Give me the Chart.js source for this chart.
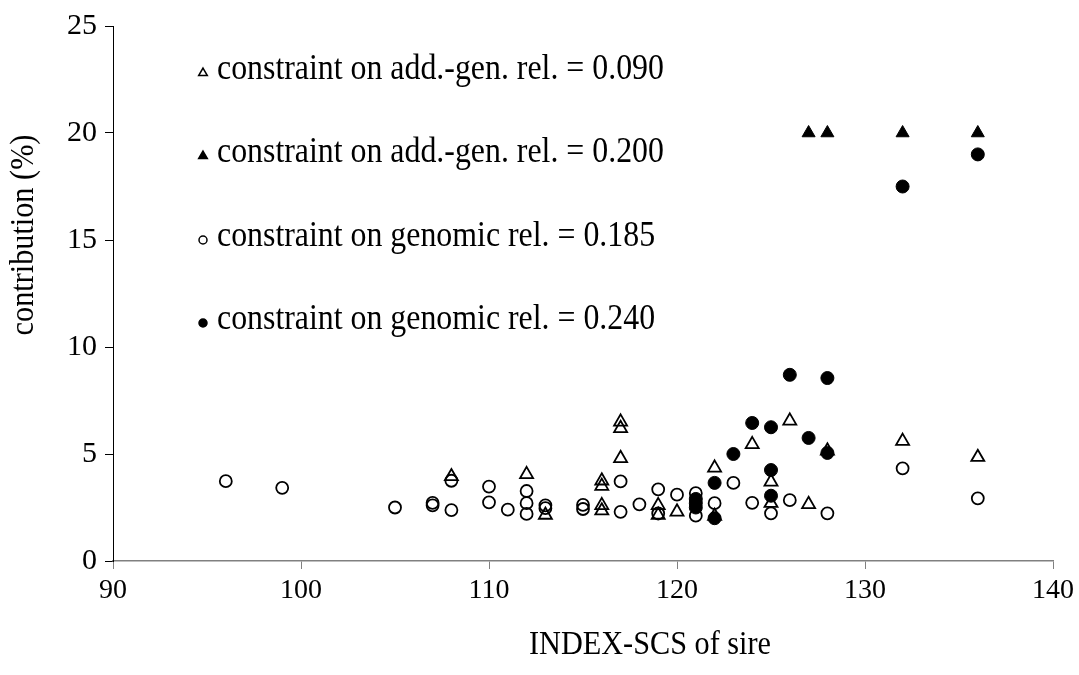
<!DOCTYPE html>
<html>
<head>
<meta charset="utf-8">
<script src="https://cdn.jsdelivr.net/npm/chart.js@4.4.1/dist/chart.umd.min.js"></script>
<style>
  html, body { margin: 0; padding: 0; background: #fff; }
  #wrap { width: 1079px; height: 675px; }
</style>
</head>
<body>
<div id="wrap"><canvas id="contribChart" width="1079" height="675"></canvas></div>
<script>
// INDEX-SCS of sire (x) and contribution in % (y)
const openTriX = [108, 112, 113, 116, 116, 116, 116, 117, 117, 117, 119, 119, 120, 122, 122, 124, 125, 125, 126, 127, 128, 132, 136];
const openTriY = [3.95, 4.05, 2.15, 3.75, 3.5, 2.6, 2.35, 6.5, 6.2, 4.8, 2.6, 2.15, 2.3, 4.35, 2.1, 5.45, 3.7, 2.7, 6.55, 2.65, 5.15, 5.6, 4.85];

const filledTriX = [127, 128, 132, 136];
const filledTriY = [20, 20, 20, 20];

const openCircX = [96, 99, 105, 107, 107, 108, 108, 110, 110, 111, 112, 112, 112, 113, 113, 115, 115, 117, 117, 118, 119, 119, 120, 121, 121, 122, 123, 124, 125, 126, 128, 132, 136];
const openCircY = [3.73, 3.42, 2.5, 2.72, 2.6, 3.75, 2.38, 3.48, 2.74, 2.4, 3.27, 2.7, 2.2, 2.6, 2.47, 2.62, 2.43, 3.72, 2.3, 2.65, 3.35, 2.22, 3.1, 3.17, 2.12, 2.7, 3.65, 2.72, 2.23, 2.84, 2.23, 4.33, 2.93];

const filledCircX = [121, 121, 121, 122, 122, 123, 124, 125, 125, 125, 126, 127, 128, 128, 132, 136];
const filledCircY = [2.9, 2.7, 2.5, 3.65, 2.0, 5.0, 6.45, 6.25, 4.25, 3.05, 8.7, 5.75, 8.55, 5.05, 17.5, 19.0];

const seriesLabels = [
    'constraint on add.-gen. rel. = 0.090',
    'constraint on add.-gen. rel. = 0.200',
    'constraint on genomic rel. = 0.185',
    'constraint on genomic rel. = 0.240'
];

const xTicks = [90, 100, 110, 120, 130, 140];
const yTicks = [0, 5, 10, 15, 20, 25];

const FONT = '"Liberation Serif", "Times New Roman", serif';

function toPoints(xs, ys) {
    return xs.map((x, i) => ({ x: x, y: ys[i] }));
}

// narrow, tall serif text like in the original figure
function condensedText(ctx, text, x, y, size, squeeze, align) {
    ctx.save();
    ctx.translate(x, y);
    ctx.scale(squeeze, 1);
    ctx.font = size + 'px ' + FONT;
    ctx.textAlign = align;
    ctx.fillText(text, 0, 0);
    ctx.restore();
}

// legend and axis titles drawn at fixed spots like the original figure
const figureText = {
    id: 'figureText',
    afterDraw(chart) {
        const ctx = chart.ctx;
        ctx.save();
        ctx.textBaseline = 'middle';

        // legend inside plot area
        const rows = [70, 153, 237, 320];
        chart.data.datasets.forEach((ds) => {
            const y = rows[ds.legendRow];
            ctx.fillStyle = ds.backgroundColor;
            ctx.strokeStyle = '#000';
            ctx.lineWidth = 1.5;
            Chart.helpers.drawPoint(ctx, {
                pointStyle: ds.pointStyle,
                radius: ds.pointStyle === 'triangle' ? 5 : 4,
                borderWidth: 1.5
            }, 203, y + 3);
            ctx.fillStyle = '#000';
            condensedText(ctx, ds.label, 217, y, 35, 0.91, 'left');
        });

        // x title
        condensedText(ctx, 'INDEX-SCS of sire', 650, 645, 34, 0.89, 'center');

        // y title
        ctx.translate(24, 235);
        ctx.rotate(-Math.PI / 2);
        condensedText(ctx, 'contribution (%)', 0, 0, 34, 0.89, 'center');
        ctx.restore();
    }
};

const ctx = document.getElementById('contribChart').getContext('2d');
const contribChart = new Chart(ctx, {
    type: 'scatter',
    data: {
        datasets: [
            {
                label: seriesLabels[3],
                legendRow: 3,
                data: toPoints(filledCircX, filledCircY),
                pointStyle: 'circle',
                pointRadius: 6.5,
                backgroundColor: '#000',
                borderColor: '#000',
                borderWidth: 1,
                order: 1
            },
            {
                label: seriesLabels[1],
                legendRow: 1,
                data: toPoints(filledTriX, filledTriY),
                pointStyle: 'triangle',
                pointRadius: 7.5,
                backgroundColor: '#000',
                borderColor: '#000',
                borderWidth: 1,
                order: 2
            },
            {
                label: seriesLabels[2],
                legendRow: 2,
                data: toPoints(openCircX, openCircY),
                pointStyle: 'circle',
                pointRadius: 6,
                backgroundColor: 'rgba(0,0,0,0)',
                borderColor: '#000',
                borderWidth: 1.8,
                order: 3
            },
            {
                label: seriesLabels[0],
                legendRow: 0,
                data: toPoints(openTriX, openTriY),
                pointStyle: 'triangle',
                pointRadius: 7.5,
                backgroundColor: 'rgba(0,0,0,0)',
                borderColor: '#000',
                borderWidth: 1.8,
                order: 4
            }
        ]
    },
    options: {
        responsive: false,
        animation: false,
        layout: {
            padding: { top: 25, right: 21, left: 0, bottom: 0 }
        },
        plugins: {
            legend: { display: false },
            tooltip: { enabled: false }
        },
        scales: {
            x: {
                type: 'linear',
                min: 90,
                max: 140,
                afterFit: (scale) => { scale.height = 114; },
                afterBuildTicks: (scale) => { scale.ticks = xTicks.map(v => ({ value: v })); },
                grid: {
                    drawOnChartArea: false,
                    drawTicks: true,
                    tickLength: 8,
                    color: '#808080'
                },
                border: { color: '#808080', width: 1.5 },
                ticks: {
                    padding: 5,
                    color: '#000',
                    font: { family: FONT, size: 28 }
                }
            },
            y: {
                min: 0,
                max: 25,
                afterFit: (scale) => { scale.width = 113; },
                afterBuildTicks: (scale) => { scale.ticks = yTicks.map(v => ({ value: v })); },
                grid: {
                    drawOnChartArea: false,
                    drawTicks: true,
                    tickLength: 8,
                    color: '#000'
                },
                border: { color: '#000', width: 1 },
                ticks: {
                    padding: 8,
                    color: '#000',
                    font: { family: FONT, size: 30 }
                }
            }
        }
    },
    plugins: [figureText]
});
</script>
</body>
</html>
